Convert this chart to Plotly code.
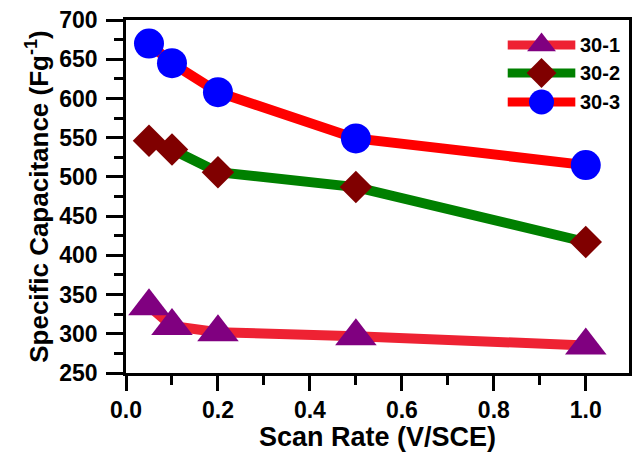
import plotly.graph_objects as go

# Scan rates (V/SCE)
scan_rate = [0.05, 0.1, 0.2, 0.5, 1.0]

# Specific capacitance (F/g) for each sample
cap_30_1 = [335, 310, 302, 297, 285]
cap_30_2 = [546, 535, 506, 487, 417]
cap_30_3 = [670, 645, 608, 549, 515]

# name, values, line colour, marker symbol, marker size, marker colour, key marker size
series = [
    ("30-1", cap_30_1, "#EE2233", "triangle-up", 36, "#800080", 25),
    ("30-2", cap_30_2, "#008000", "diamond", 25, "#800000", 23),
    ("30-3", cap_30_3, "#FF0000", "circle", 30, "#0000FF", 25),
]

FONT = "Liberation Sans, Arial, sans-serif"
W, H = 634, 452
M = dict(l=126, r=2, t=20, b=79)

fig = go.Figure()
for name, vals, lc, sym, size, mc, _ in series:
    fig.add_trace(go.Scatter(
        x=scan_rate, y=vals, name=name, mode="lines+markers",
        line=dict(color=lc, width=10),
        marker=dict(symbol=sym, size=size, color=mc, line=dict(width=0)),
        showlegend=False,
    ))

# Legend keys drawn on an overlay axis measured in pixels of the plot area
key_x0, key_x1, text_x = 510, 578, 581
key_rows = [45, 73, 102]
for (name, _, lc, sym, _, mc, ksize), ky in zip(series, key_rows):
    fig.add_trace(go.Scatter(
        x=[key_x0, (key_x0 + key_x1) / 2, key_x1], y=[ky, ky, ky],
        xaxis="x2", yaxis="y2", mode="lines+markers",
        line=dict(color=lc, width=9),
        marker=dict(symbol=sym, size=[0, ksize, 0], color=mc, opacity=1,
                    line=dict(width=0)),
        showlegend=False, hoverinfo="skip",
    ))
    fig.add_annotation(
        x=text_x, y=ky, xref="x2", yref="y2", text=name, showarrow=False,
        xanchor="left", yanchor="middle",
        font=dict(family=FONT, size=20, color="black", weight="bold"),
    )

tick_font = dict(family=FONT, size=23, color="black", weight="bold")

fig.update_layout(
    width=W, height=H,
    margin=M,
    paper_bgcolor="white", plot_bgcolor="white",
    font=dict(family=FONT, color="black"),
    showlegend=False,
    xaxis=dict(
        range=[0, 1.094], dtick=0.2, tick0=0, tickformat=".1f",
        showgrid=False, zeroline=False,
        showline=True, linecolor="black", linewidth=2.5, mirror=True,
        ticks="outside", ticklen=15, tickwidth=2.5, tickcolor="black",
        minor=dict(dtick=0.1, ticks="outside", ticklen=9, tickwidth=2.5, tickcolor="black"),
        tickfont=tick_font,
        title=dict(text="Scan Rate (V/SCE)", standoff=2,
                   font=dict(family=FONT, size=27, color="black", weight="bold")),
    ),
    yaxis=dict(
        range=[250, 700], dtick=50, tick0=250,
        showgrid=False, zeroline=False,
        showline=True, linecolor="black", linewidth=2.5, mirror=True,
        ticks="outside", ticklen=17, tickwidth=2.5, tickcolor="black",
        ticklabelstandoff=4,
        minor=dict(dtick=25, ticks="outside", ticklen=9, tickwidth=2.5, tickcolor="black"),
        tickfont=tick_font,
        title=dict(text="Specific Capacitance (Fg<sup>-1</sup>)", standoff=4,
                   font=dict(family=FONT, size=26, color="black", weight="bold")),
    ),
    xaxis2=dict(overlaying="x", range=[M["l"], W - M["r"]], visible=False),
    yaxis2=dict(overlaying="y", range=[H - M["b"], M["t"]], visible=False),
)

fig.write_html("out.html")
